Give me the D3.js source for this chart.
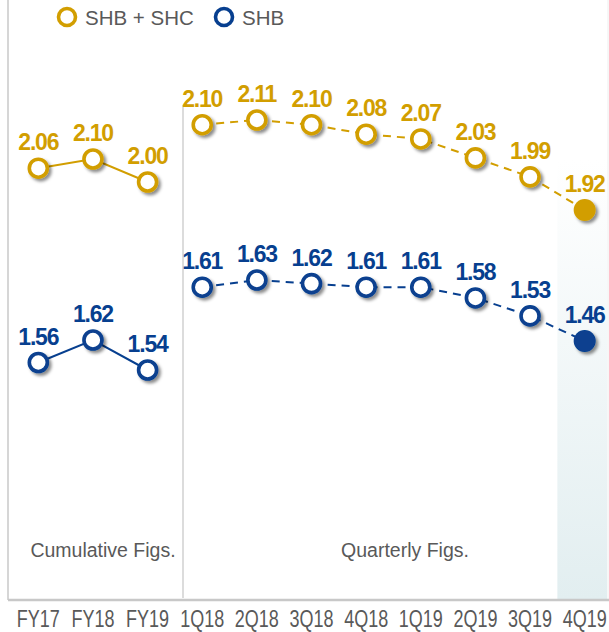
<!DOCTYPE html>
<html>
  <head>
    <meta charset="utf-8">
    <title></title>
    <style>
      body { margin: 0; background: #fff; }
      svg { display: block; }
    </style>
  </head>
  <body>

    <div id="chart"></div>
    <script src="https://cdn.jsdelivr.net/npm/d3@7"></script>
    <script>

      const width = 609;
      const height = 632;

      // data
      const categories = ['FY17', 'FY18', 'FY19', '1Q18', '2Q18', '3Q18', '4Q18', '1Q19', '2Q19', '3Q19', '4Q19'];
      const shbShc = [2.06, 2.10, 2.00, 2.10, 2.11, 2.10, 2.08, 2.07, 2.03, 1.99, 1.92];
      const shb = [1.56, 1.62, 1.54, 1.61, 1.63, 1.62, 1.61, 1.61, 1.58, 1.53, 1.46];
      const seriesNames = ['SHB + SHC', 'SHB'];
      const sectionNames = ['Cumulative Figs.', 'Quarterly Figs.'];
      const nCumulative = 3;

      const gold = '#D29E00';
      const navy = '#073F8F';
      const grey = '#595959';

      const svg = d3.select('#chart')
                    .append('svg')
                    .attr('width', width)
                    .attr('height', height)

      const defs = svg.append('defs')

      const shadow = defs.append('filter')
        .attr('id', 'shadow')
        .attr('x', '-50%').attr('y', '-50%')
        .attr('width', '200%').attr('height', '200%')
      shadow.append('feDropShadow')
        .attr('dx', 2.5).attr('dy', 2.5)
        .attr('stdDeviation', 1.6)
        .attr('flood-color', '#000')
        .attr('flood-opacity', 0.45)

      const grad = defs.append('linearGradient')
        .attr('id', 'lastcol')
        .attr('x1', 0).attr('y1', 0).attr('x2', 0).attr('y2', 1)
      grad.append('stop').attr('offset', '0%').attr('stop-color', '#ffffff')
      grad.append('stop').attr('offset', '100%').attr('stop-color', '#e2eef0')

      const x = d3.scaleBand()
        .domain(categories)
        .range([11, 612])
        .paddingInner(0)
        .paddingOuter(0)
      const cx = (c) => x(c) + x.bandwidth() / 2

      // highlighted last column
      const last = categories[categories.length - 1]
      svg.append('rect')
        .attr('x', x(last))
        .attr('y', 160)
        .attr('width', 607 - x(last))
        .attr('height', 439)
        .attr('fill', 'url(#lastcol)')

      // frame lines
      svg.append('line')
        .attr('x1', 8).attr('x2', 8).attr('y1', 0).attr('y2', 600)
        .attr('stroke', '#d6d6d6').attr('stroke-width', 2)
      svg.append('line')
        .attr('x1', 608).attr('x2', 608).attr('y1', 0).attr('y2', 600)
        .attr('stroke', '#eeeeee').attr('stroke-width', 1)
      svg.append('line')
        .attr('x1', 183).attr('x2', 183).attr('y1', 105).attr('y2', 598)
        .attr('stroke', '#d0d0d0').attr('stroke-width', 1.5)
      svg.append('line')
        .attr('x1', 8).attr('x2', 609).attr('y1', 600).attr('y2', 600)
        .attr('stroke', '#c8c8c8').attr('stroke-width', 2.5)

      // x axis labels (narrow look: squeeze the text horizontally)
      const xAxis = d3.axisBottom(x).tickSize(0).tickPadding(0)
      const axisG = svg.append('g')
        .attr('transform', 'translate(0,600)')
        .call(xAxis)
      axisG.select('.domain').remove()
      axisG.selectAll('text')
        .attr('y', null)
        .attr('dy', null)
        .attr('transform', 'translate(0,27) scale(0.75,1)')
        .attr('fill', grey)
        .style('font-family', '"Liberation Sans", Arial, sans-serif')
        .style('font-size', '24px')

      // section labels
      svg.selectAll('.section')
        .data(sectionNames)
        .enter()
        .append('text')
        .attr('class', 'section')
        .attr('x', (d, i) => i === 0 ? 103 : 405)
        .attr('y', 557)
        .attr('text-anchor', 'middle')
        .attr('fill', grey)
        .style('font-family', '"Liberation Sans", Arial, sans-serif')
        .style('font-size', '19.5px')
        .text(d => d)

      // one y scale per series and per block (cumulative / quarterly)
      const series = [
        { name: seriesNames[0], values: shbShc, color: gold, ranges: [[182, 159], [210, 120]] },
        { name: seriesNames[1], values: shb, color: navy, ranges: [[370, 340], [341, 280]] }
      ]

      series.forEach(function(s) {
        const pts = s.values.map((v, i) => ({ cat: categories[i], v: v, i: i }))
        const blocks = [pts.slice(0, nCumulative), pts.slice(nCumulative)]

        blocks.forEach(function(block, b) {
          const y = d3.scaleLinear()
            .domain(d3.extent(block, d => d.v))
            .range(s.ranges[b])
          block.forEach(d => { d.y = y(d.v) })

          const line = d3.line().x(d => cx(d.cat)).y(d => d.y)
          svg.append('path')
            .datum(block)
            .attr('d', line)
            .attr('fill', 'none')
            .attr('stroke', s.color)
            .attr('stroke-width', 2)
            .attr('stroke-dasharray', b === 0 ? null : '8,6')
        })

        const g = svg.append('g')
        g.selectAll('circle')
          .data(pts)
          .enter()
          .append('circle')
          .attr('cx', d => cx(d.cat))
          .attr('cy', d => d.y)
          .attr('r', d => d.i === pts.length - 1 ? 11 : 9)
          .attr('fill', d => d.i === pts.length - 1 ? s.color : '#fff')
          .attr('stroke', s.color)
          .attr('stroke-width', d => d.i === pts.length - 1 ? 0 : 3.6)
          .attr('filter', 'url(#shadow)')

        g.selectAll('text')
          .data(pts)
          .enter()
          .append('text')
          .attr('x', d => cx(d.cat))
          .attr('y', d => d.y - 18)
          .attr('text-anchor', 'middle')
          .attr('fill', s.color)
          .style('font-family', '"Liberation Sans", Arial, sans-serif')
          .style('font-weight', 'bold')
          .style('font-size', '23px')
          .style('letter-spacing', '-1.2px')
          .text(d => d.v.toFixed(2))
      })

      // legend
      const legend = svg.append('g')
      const legendX = [67, 224]
      series.forEach(function(s, i) {
        legend.append('circle')
          .attr('cx', legendX[i])
          .attr('cy', 17)
          .attr('r', 8.5)
          .attr('fill', '#fff')
          .attr('stroke', s.color)
          .attr('stroke-width', 3.6)
        legend.append('text')
          .attr('x', legendX[i] + 18)
          .attr('y', 25)
          .attr('fill', grey)
          .style('font-family', '"Liberation Sans", Arial, sans-serif')
          .style('font-size', '20.5px')
          .text(s.name)
      })

    </script>

  </body>
</html>
